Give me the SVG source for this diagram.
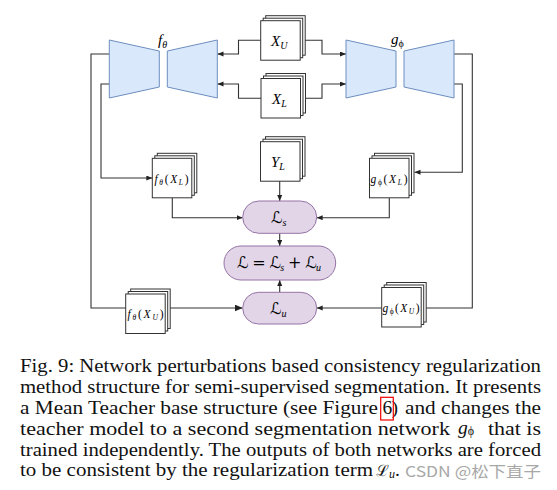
<svg xmlns="http://www.w3.org/2000/svg" xmlns:xlink="http://www.w3.org/1999/xlink" width="557" height="490" viewBox="0 0 557 490">
<style>
.trap{fill:#dae8fc;stroke:#6c8ebf;stroke-width:1}
.pill{fill:#e1d5e7;stroke:#9673a6;stroke-width:1}
.bx{fill:#fff;stroke:#333;stroke-width:1}
.con{fill:none;stroke:#333;stroke-width:1.1}
.m{font-family:"Liberation Serif","DejaVu Serif",serif;font-style:italic;fill:#000}
.cal{font-family:"DejaVu Serif","DejaVu Sans",serif;font-style:normal;fill:#000}
.cap{font-family:"Liberation Serif","DejaVu Serif",serif;font-size:19.5px;fill:#111}
</style>
<defs>
<marker id="ah" markerUnits="userSpaceOnUse" markerWidth="7" markerHeight="6" refX="6" refY="2.5" orient="auto">
<path d="M0,0 L6,2.5 L0,5 z" fill="#222"/>
</marker>
<marker id="ahb" markerUnits="userSpaceOnUse" markerWidth="10" markerHeight="8" refX="8" refY="3.5" orient="auto">
<path d="M0,0 L8,3.5 L0,7 z" fill="#222"/>
</marker>
<g id="stack">
<rect class="bx" x="5" y="-5" width="39.5" height="39.5"/>
<rect class="bx" x="2.5" y="-2.5" width="39.5" height="39.5"/>
<rect class="bx" x="0" y="0" width="39.5" height="39.5"/>
</g>
</defs>
<rect width="557" height="490" fill="#fff"/>

<g id="connectors">
<path class="con" d="M260.7,40.3 H238.5 V54 H217.5" marker-end="url(#ah)"/>
<path class="con" d="M261,98.3 H238.5 V84 H217.5" marker-end="url(#ah)"/>
<path class="con" d="M305,40.3 H322 V54 H346" marker-end="url(#ah)"/>
<path class="con" d="M305.5,98.3 H322 V84 H346" marker-end="url(#ah)"/>
<path class="con" d="M109.3,54 H91 V308 H242.7" marker-end="url(#ahb)"/>
<path class="con" d="M109.3,84 H101 V178 H152.3" marker-end="url(#ah)"/>
<path class="con" d="M454,54 H472.3 V308 H316.7" marker-end="url(#ah)"/>
<path class="con" d="M454,84 H462.3 V172.3 H414.5" marker-end="url(#ah)"/>
<path class="con" d="M172.3,198 V217.7 H242.7" marker-end="url(#ah)"/>
<path class="con" d="M389.3,198 V217.7 H316.7" marker-end="url(#ah)"/>
<path class="con" d="M279.7,181 V201" marker-end="url(#ah)"/>
<path class="con" d="M279.7,233.3 V246" marker-end="url(#ah)"/>
<path class="con" d="M279.7,292.3 V280" marker-end="url(#ah)"/>
</g>

<g id="f_theta">
<path class="trap" d="M109.3,40 L159.3,51 L159.3,87 L109.3,98 Z"/>
<path class="trap" d="M167.3,51 L217.3,40 L217.3,98 L167.3,87 Z"/>
<text class="m" x="158" y="45" font-size="15">f<tspan font-size="10" dy="3">θ</tspan></text>
</g>
<g id="g_phi">
<path class="trap" d="M346,40 L396,51 L396,87 L346,98 Z"/>
<path class="trap" d="M404,51 L454,40 L454,98 L404,87 Z"/>
<text class="m" x="391" y="44" font-size="15">g<tspan font-size="10" dy="3" font-style="normal">ϕ</tspan></text>
</g>

<g id="XU">
<use xlink:href="#stack" x="260.7" y="20.7"/>
<text class="m" x="271" y="45.5" font-size="15">X<tspan font-size="10" dy="3">U</tspan></text>
</g>
<g id="XL">
<use xlink:href="#stack" x="261" y="78.5"/>
<text class="m" x="272" y="103.5" font-size="15">X<tspan font-size="10" dy="3">L</tspan></text>
</g>
<g id="YL">
<use xlink:href="#stack" x="260.5" y="141.7"/>
<text class="m" x="271" y="166.5" font-size="15">Y<tspan font-size="10" dy="3">L</tspan></text>
</g>
<g id="fXL">
<use xlink:href="#stack" x="152.3" y="158.3"/>
<text class="m" x="154.5" y="182.5" font-size="11.5" textLength="34">f<tspan font-size="7.5" dy="2">θ</tspan><tspan dy="-2" font-style="normal">(</tspan>X<tspan font-size="7.5" dy="2">L</tspan><tspan dy="-2" font-style="normal">)</tspan></text>
</g>
<g id="gXL">
<use xlink:href="#stack" x="369.5" y="158.3"/>
<text class="m" x="370.5" y="182.5" font-size="11.5" textLength="37">g<tspan font-size="7.5" dy="2" font-style="normal">ϕ</tspan><tspan dy="-2" font-style="normal">(</tspan>X<tspan font-size="7.5" dy="2">L</tspan><tspan dy="-2" font-style="normal">)</tspan></text>
</g>
<g id="fXU">
<use xlink:href="#stack" x="125.7" y="294"/>
<text class="m" x="127.5" y="318" font-size="11.5" textLength="36">f<tspan font-size="7.5" dy="2">θ</tspan><tspan dy="-2" font-style="normal">(</tspan>X<tspan font-size="7.5" dy="2">U</tspan><tspan dy="-2" font-style="normal">)</tspan></text>
</g>
<g id="gXU">
<use xlink:href="#stack" x="381.7" y="287.5"/>
<text class="m" x="382.5" y="311.5" font-size="11.5" textLength="37">g<tspan font-size="7.5" dy="2" font-style="normal">ϕ</tspan><tspan dy="-2" font-style="normal">(</tspan>X<tspan font-size="7.5" dy="2">U</tspan><tspan dy="-2" font-style="normal">)</tspan></text>
</g>

<g id="Ls">
<rect class="pill" x="242.7" y="201" width="74" height="32.3" rx="16.15"/>
<text class="cal" x="271" y="222.5" font-size="16">ℒ<tspan class="m" font-size="10" dy="3">s</tspan></text>
</g>
<g id="L">
<rect class="pill" x="224" y="246" width="111.7" height="34" rx="17"/>
<text class="cal" x="237" y="268" font-size="16" textLength="84">ℒ = ℒ<tspan class="m" font-size="10" dy="3">s</tspan><tspan dy="-3"> + ℒ</tspan><tspan class="m" font-size="10" dy="3">u</tspan></text>
</g>
<g id="Lu">
<rect class="pill" x="242.7" y="292.3" width="74" height="31.7" rx="15.85"/>
<text class="cal" x="270" y="313.5" font-size="16">ℒ<tspan class="m" font-size="10" dy="3">u</tspan></text>
</g>

<g id="caption">
<text class="cap" x="20" y="371.5" textLength="521" lengthAdjust="spacingAndGlyphs">Fig. 9: Network perturbations based consistency regularization</text>
<text class="cap" x="20" y="392.5" textLength="521" lengthAdjust="spacingAndGlyphs">method structure for semi-supervised segmentation. It presents</text>
<text class="cap" x="20" y="413.5" textLength="358" lengthAdjust="spacingAndGlyphs">a Mean Teacher base structure (see Figure</text>
<text class="cap" x="382.5" y="413.5">6</text>
<text class="cap" x="391.5" y="413.5">)</text>
<text class="cap" x="405" y="413.5" textLength="136" lengthAdjust="spacingAndGlyphs">and changes the</text>
<rect x="380.7" y="397.3" width="12.6" height="22.7" fill="none" stroke="#e00" stroke-width="1.2"/>
<text class="cap" x="20" y="434.5" textLength="430" lengthAdjust="spacingAndGlyphs">teacher model to a second segmentation network</text>
<text class="cap" x="458" y="433.5" font-style="italic">g<tspan font-size="12" dy="1.5" font-style="normal">ϕ</tspan></text>
<text class="cap" x="488" y="434.5" textLength="53" lengthAdjust="spacingAndGlyphs">that is</text>
<text class="cap" x="20" y="455.5" textLength="521" lengthAdjust="spacingAndGlyphs">trained independently. The outputs of both networks are forced</text>
<text class="cap" x="20" y="476" textLength="353" lengthAdjust="spacingAndGlyphs">to be consistent by the regularization term</text>
<text class="cap" x="376" y="476"><tspan font-family="DejaVu Serif" font-size="15.5">ℒ</tspan><tspan font-style="italic" font-size="12" dy="2">u</tspan><tspan dy="-2">.</tspan></text>
<text x="405" y="476.5" font-family="'Noto Sans CJK SC','DejaVu Sans',sans-serif" font-size="15" fill="#a8a8a8" textLength="136" lengthAdjust="spacingAndGlyphs">CSDN @松下直子</text>
</g>
</svg>
